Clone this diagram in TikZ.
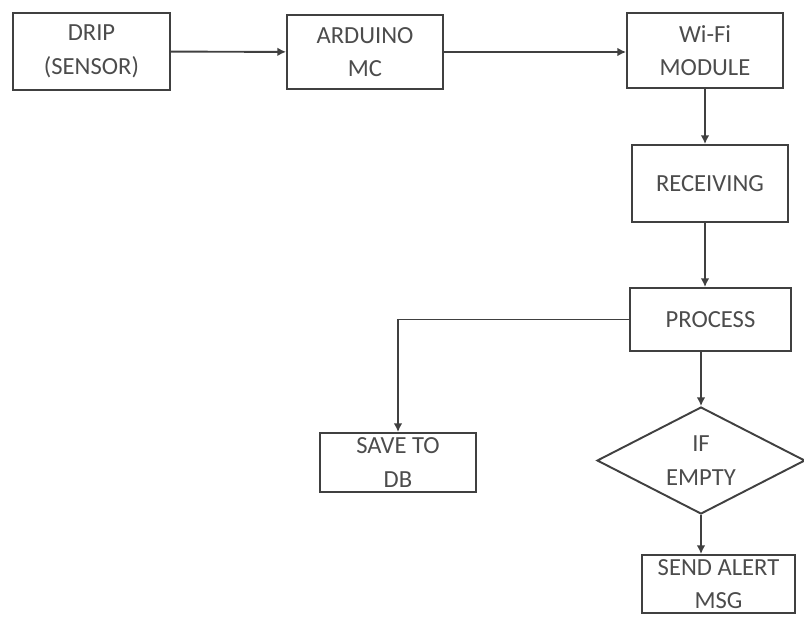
\documentclass[tikz,border=0pt]{standalone}
\usepackage{fontspec}
\setmainfont{Carlito}
\usetikzlibrary{shapes.geometric,arrows.meta}
\tikzset{
    blk/.style={draw=black!75, line width=1.1pt, rectangle, align=center, text=black!70,
        font=\fontsize{14}{19}\selectfont, inner sep=0pt},
    dec/.style={draw=black!75, line width=1.1pt, diamond, aspect=2, align=center, text=black!70,
        font=\fontsize{14}{19}\selectfont, inner sep=0pt},
    flow/.style={draw=black!75, line width=1.1pt, -{Latex[length=5pt,width=5pt]}}
}
\begin{document}
\begin{tikzpicture}[x=0.02cm,y=-0.02cm]
            \useasboundingbox (0,0) rectangle (804,616);
            \node[blk, minimum width=3.14cm, minimum height=1.54cm] (drip) at (91.5,51.5) {DRIP\\(SENSOR)};
            \node[blk, minimum width=3.12cm, minimum height=1.48cm] (ard) at (365,52) {ARDUINO\\MC};
            \node[blk, minimum width=3.12cm, minimum height=1.5cm] (wifi) at (705,50.5) {Wi-Fi\\MODULE};
            \node[blk, minimum width=3.12cm, minimum height=1.54cm] (recv) at (710,183.5) {RECEIVING};
            \node[blk, minimum width=3.22cm, minimum height=1.26cm] (proc) at (710.5,319.5) {PROCESS};
            \node[blk, minimum width=3.12cm, minimum height=1.18cm] (save) at (398,462.5) {SAVE TO\\DB};
            \node[dec, minimum width=4.16cm, minimum height=2.14cm] (empty) at (701,460.5) {IF\\EMPTY};
            \node[blk, minimum width=3.06cm, minimum height=1.16cm] (send) at (718.5,584) {SEND ALERT\\MSG};
            \draw[flow] (drip) -- (ard);
            \draw[flow] (ard.east) -- (wifi.west |- ard.east);
            \draw[flow] (wifi.south) -- (wifi.south |- recv.north);
            \draw[flow] (recv.south -| wifi.south) -- (wifi.south |- proc.north);
            \draw[flow] (proc.west) -| (save.north);
            \draw[flow] (empty.north |- proc.south) -- (empty.north);
            \draw[flow] (empty.south) -- (empty.south |- send.north);
        \end{tikzpicture}
\end{document}
